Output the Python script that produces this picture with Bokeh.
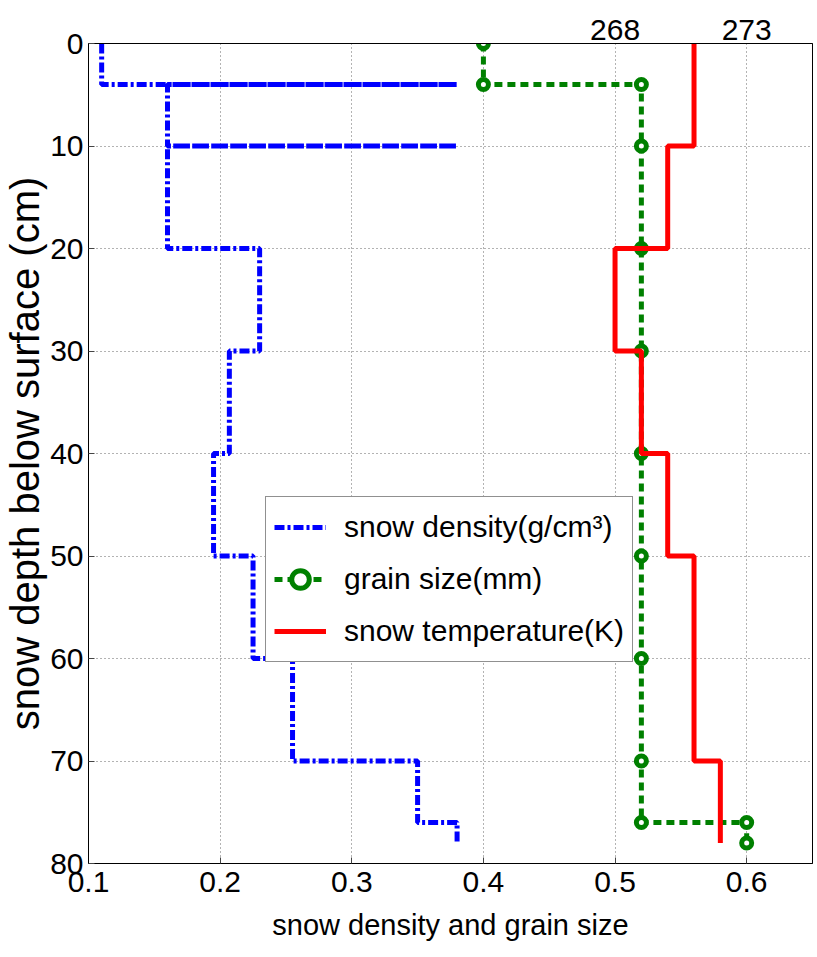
from bokeh.plotting import figure
from bokeh.models import Range1d, LinearAxis, FixedTicker, Legend, LegendItem
from bokeh.embed import file_html
from bokeh.resources import INLINE

# ---- data (profile vertices) ----
density_depth = [0, 4, 4, 4, 10, 10, 10, 20, 20, 30, 30, 40, 40, 50, 50, 60, 60, 70, 70, 76, 76, 78]
density_val = [0.11, 0.11, 0.38, 0.16, 0.16, 0.38, 0.16, 0.16, 0.23, 0.23, 0.207, 0.207,
               0.195, 0.195, 0.225, 0.225, 0.255, 0.255, 0.35, 0.35, 0.38, 0.38]

grain_depth = [0, 4, 4, 10, 20, 30, 40, 50, 60, 70, 76, 76, 78]
grain_val = [0.40, 0.40, 0.52, 0.52, 0.52, 0.52, 0.52, 0.52, 0.52, 0.52, 0.52, 0.60, 0.60]

temp_depth = [0, 10, 10, 20, 20, 30, 30, 40, 40, 50, 50, 70, 70, 78]
temp_val = [271, 271, 270, 270, 268, 268, 269, 269, 270, 270, 271, 271, 272, 272]

x_ticks = [0.1, 0.2, 0.3, 0.4, 0.5, 0.6]
y_ticks = [0, 10, 20, 30, 40, 50, 60, 70, 80]
temp_ticks = [268, 273]

FONT = "Liberation Sans"

p = figure(width=817, height=957, x_range=Range1d(0.1, 0.65), y_range=Range1d(80, 0),
           output_backend="svg", toolbar_location=None,
           min_border_left=80, min_border_right=5, min_border_top=43, min_border_bottom=94)
p.extra_x_ranges = {"temp": Range1d(248, 275.5)}

p.outline_line_color = "black"
p.outline_line_width = 1
p.background_fill_color = "white"
p.border_fill_color = "white"

for ax in (p.xaxis[0], p.yaxis[0]):
    ax.major_label_text_font = FONT
    ax.major_label_text_font_size = "30px"
    ax.major_label_text_color = "black"
    ax.axis_label_text_font = FONT
    ax.axis_label_text_font_style = "normal"
    ax.axis_label_text_color = "black"
    ax.axis_line_color = "black"
    ax.major_tick_in = 6
    ax.major_tick_out = 0
    ax.minor_tick_line_color = None
    ax.major_tick_line_color = "#444444"

p.xaxis[0].ticker = FixedTicker(ticks=x_ticks)
p.yaxis[0].ticker = FixedTicker(ticks=y_ticks)
p.xaxis[0].axis_label = "snow density and grain size"
p.xaxis[0].axis_label_text_font_size = "29px"
p.xaxis[0].axis_label_standoff = 14
p.xaxis[0].major_label_standoff = 8
p.yaxis[0].axis_label = "snow depth below surface (cm)"
p.yaxis[0].axis_label_text_font_size = "40px"
p.yaxis[0].axis_label_standoff = 0
p.yaxis[0].major_label_standoff = 5

top = LinearAxis(x_range_name="temp", ticker=FixedTicker(ticks=temp_ticks))
top.major_label_text_font = FONT
top.major_label_text_font_size = "30px"
top.major_label_text_color = "black"
top.major_tick_in = 0
top.major_tick_out = 0
top.minor_tick_line_color = None
top.axis_line_color = "black"
top.major_label_standoff = 4
p.add_layout(top, "above")

p.xgrid.ticker = FixedTicker(ticks=x_ticks)
p.ygrid.ticker = FixedTicker(ticks=y_ticks)
p.grid.grid_line_color = "#666666"
p.grid.grid_line_dash = "1 3"
p.grid.grid_line_width = 1

r_den = p.line(density_val, density_depth, color="#0000ff", line_width=5, line_dash="10 3 3 3")
r_gr = p.line(grain_val, grain_depth, color="#008000", line_width=5, line_dash="8 5")
r_grm = p.scatter(grain_val, grain_depth, marker="circle", size=10, line_color="#008000",
                  line_width=5, fill_color="white")
r_t = p.line(temp_val, temp_depth, color="#ff0000", line_width=5, x_range_name="temp")

legend = Legend(items=[
    LegendItem(label="snow density(g/cm³)", renderers=[r_den]),
    LegendItem(label="grain size(mm)", renderers=[r_gr, r_grm]),
    LegendItem(label="snow temperature(K)", renderers=[r_t]),
], location=(177, 201))
legend.label_text_font = FONT
legend.label_text_font_size = "30px"
legend.label_text_color = "black"
legend.glyph_width = 52
legend.glyph_height = 44
legend.label_height = 44
legend.spacing = 8
legend.padding = 8
legend.margin = 0
legend.label_standoff = 18
legend.border_line_color = "#222222"
legend.border_line_width = 1.5
legend.background_fill_alpha = 1
p.add_layout(legend, "center")

open("out.html", "w").write(file_html(p, INLINE))
